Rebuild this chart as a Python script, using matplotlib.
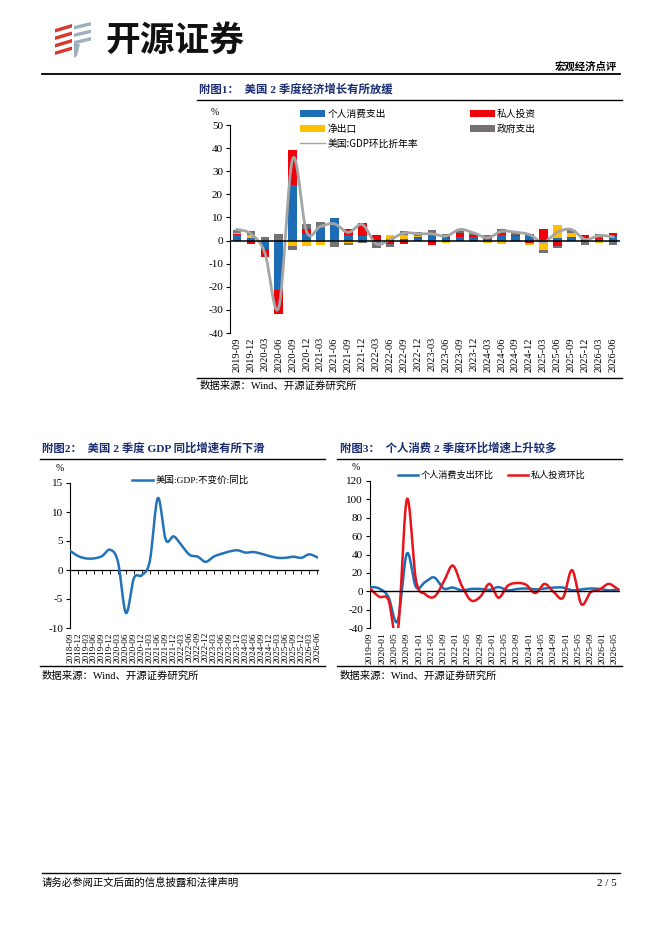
import numpy as np
import pandas as pd
import matplotlib
matplotlib.use("Agg")
import matplotlib.pyplot as plt
import matplotlib.dates as mdates
from matplotlib.patches import Patch, Polygon
from matplotlib.lines import Line2D

plt.rcParams['font.family'] = ['Liberation Serif', 'Noto Sans CJK SC']
plt.rcParams['axes.unicode_minus'] = False

# ---------------- data ----------------
quarters1 = ['2019-09', '2019-12', '2020-03', '2020-06', '2020-09', '2020-12',
             '2021-03', '2021-06', '2021-09', '2021-12', '2022-03', '2022-06',
             '2022-09', '2022-12', '2023-03', '2023-06', '2023-09', '2023-12',
             '2024-03', '2024-06', '2024-09', '2024-12', '2025-03', '2025-06',
             '2025-09', '2025-12', '2026-03', '2026-06']
pce_contrib = [2.2, 1.0, -3.6, -21.2, 24.2, 2.9, 5.3, 9.8, 2.6, 1.9, 0.3, 0.8,
               0.8, 1.0, 2.2, 1.0, 1.6, 1.4, 0.8, 2.2, 2.0, 1.8, 0.3, 1.1,
               1.6, 0.5, 0.6, 1.9]
inv_contrib = [0.5, -1.4, -3.6, -10.4, 14.8, 1.9, 0.3, -0.3, 2.6, 5.8, 2.0, -1.6,
               -1.3, 0.6, -1.8, 1.0, 1.7, 0.9, 0.5, 1.2, 0.3, -0.9, 4.5, -2.5,
               0.0, 1.8, 0.6, 1.4]
nx_contrib = [0.4, 1.3, 0.0, 0.0, -2.5, -2.5, -2.0, -0.4, -0.9, -0.2, -0.8, 1.6,
              1.7, 0.4, 0.5, -1.0, 0.0, -0.8, -1.2, -1.4, -0.6, -1.0, -3.9, 5.7,
              1.7, 0.2, -1.1, 0.0]
gov_contrib = [1.3, 1.7, 1.6, 3.0, -1.7, 2.2, 2.4, -2.3, -1.0, -0.8, -2.3, -1.2,
               1.8, 1.5, 1.9, 1.0, 1.4, 1.0, 0.9, 1.7, 1.2, 1.2, -1.4, -0.7,
               1.4, -2.0, 1.6, -2.0]
gdp_saar = [4.8, 2.9, -5.3, -29.0, 35.4, 3.8, 6.2, 7.2, 3.5, 6.9, -1.4, 0.4,
            3.3, 2.9, 2.9, 1.9, 4.8, 3.3, 1.2, 4.0, 3.6, 2.6, -0.7, 3.6,
            4.8, 0.5, 2.2, 1.6]
series1_names = ['个人消费支出', '私人投资', '净出口', '政府支出', '美国:GDP环比折年率']

quarters2 = ['2018-09', '2018-12', '2019-03', '2019-06', '2019-09', '2019-12',
             '2020-03', '2020-06', '2020-09', '2020-12', '2021-03', '2021-06',
             '2021-09', '2021-12', '2022-03', '2022-06', '2022-09', '2022-12',
             '2023-03', '2023-06', '2023-09', '2023-12', '2024-03', '2024-06',
             '2024-09', '2024-12', '2025-03', '2025-06', '2025-09', '2025-12',
             '2026-03', '2026-06']
gdp_yoy = [3.3, 2.4, 2.0, 2.0, 2.4, 3.5, 1.4, -7.4, -1.4, -0.9, 1.6, 12.4,
           5.2, 5.8, 4.2, 2.6, 2.3, 1.4, 2.3, 2.8, 3.2, 3.4, 3.0, 3.1,
           2.8, 2.4, 2.1, 2.1, 2.3, 2.1, 2.7, 2.2]
series2_name = '美国:GDP:不变价:同比'

quarters3 = quarters1
pce_qoq = [4.7, 3.0, -6.0, -32.5, 41.0, 4.5, 10.0, 15.0, 3.0, 4.0, 1.0, 2.5,
           2.5, 1.5, 4.5, 1.0, 2.5, 3.0, 2.0, 3.0, 4.0, 4.0, 1.0, 2.0,
           3.0, 2.5, 1.0, 2.0]
inv_qoq = [3.0, -6.0, -9.0, -46.0, 100.0, 12.0, -3.0, -6.0, 10.0, 28.0, 6.0, -10.0,
           -6.0, 8.0, -7.0, 6.0, 9.0, 7.0, -2.0, 8.0, -1.0, -7.0, 23.0, -14.0,
           -1.0, 2.0, 8.0, 2.0]
series3_names = ['个人消费支出环比', '私人投资环比']

# ---------------- helpers ----------------
W, H = 662, 936
fig = plt.figure(figsize=(W / 100, H / 100), dpi=100)
NAVY = '#1B2E72'
CJK = ['Noto Sans CJK SC', 'DejaVu Sans']
MIX = ['Liberation Serif', 'Noto Sans CJK SC']


def rect(x0, y0, x1, y1):
    return [x0 / W, 1 - y1 / H, (x1 - x0) / W, (y1 - y0) / H]


def ftext(x, y, s, **kw):
    fig.text(x / W, 1 - y / H, s, **kw)


def hline(x0, x1, y, lw=0.8, color='black'):
    fig.add_artist(Line2D([x0 / W, x1 / W], [1 - y / H, 1 - y / H],
                          transform=fig.transFigure, color=color, lw=lw))


def smooth(x, y, n=24):
    x = np.asarray(x, float)
    y = np.asarray(y, float)
    P = np.column_stack([x, y])
    P = np.vstack([P[0], P, P[-1]])
    out = []
    t = np.linspace(0, 1, n)[:, None]
    for i in range(1, len(P) - 2):
        p0, p1, p2, p3 = P[i - 1], P[i], P[i + 1], P[i + 2]
        c1 = p1 + (p2 - p0) / 6.0
        c2 = p2 - (p3 - p1) / 6.0
        seg = ((1 - t) ** 3) * p1 + 3 * ((1 - t) ** 2) * t * c1 + 3 * (1 - t) * t ** 2 * c2 + t ** 3 * p2
        out.append(seg if i == 1 else seg[1:])
    S = np.vstack(out)
    return S[:, 0], S[:, 1]


def style_axes(ax):
    for s in ['top', 'right', 'bottom']:
        ax.spines[s].set_visible(False)
    ax.spines['left'].set_linewidth(0.8)
    ax.tick_params(axis='y', direction='out', length=3, width=0.8, labelsize=8, pad=2)
    for lab in ax.get_yticklabels():
        lab.set_family(MIX)


# ---------------- header ----------------
red_c = '#D7372F'
gray_c = '#9DB0BC'
for k in range(4):
    yy = 24 + k * 7.5
    pts = [(55, yy + 5), (72, yy), (72, yy + 3.5), (55, yy + 8.5)]
    fig.add_artist(Polygon([(px / W, 1 - py / H) for px, py in pts], closed=True,
                           transform=fig.transFigure, color=red_c, lw=0))
for k in range(3):
    yy = 22 + k * 7.5
    pts = [(74, yy + 4), (91, yy), (91, yy + 3.5), (74, yy + 7.5)]
    fig.add_artist(Polygon([(px / W, 1 - py / H) for px, py in pts], closed=True,
                           transform=fig.transFigure, color=gray_c, lw=0))
fig.add_artist(Polygon([(px / W, 1 - py / H) for px, py in [(74, 44), (80, 44), (77, 56), (74, 58)]],
                       closed=True, transform=fig.transFigure, color=gray_c, lw=0))
ftext(105, 40, '开源证券', family=CJK, fontsize=25, fontweight='bold', va='center', ha='left', color='#111111')
ftext(617, 67, '宏观经济点评', family=CJK, fontsize=7.5, fontweight='bold', ha='right', va='center')
hline(42, 620, 74, lw=1.3)

# ---------------- chart 1 ----------------
ftext(199, 89, '附图1：  美国 2 季度经济增长有所放缓', family=MIX, fontsize=8.2,
      fontweight='bold', color=NAVY, va='center')
hline(197, 622, 100, lw=1.0)
ax1 = fig.add_axes(rect(230, 125, 620, 333))
x1 = np.arange(len(quarters1))
comps = [np.array(pce_contrib), np.array(inv_contrib), np.array(nx_contrib), np.array(gov_contrib)]
cols1 = ['#1C6DB5', '#F2000A', '#FFC000', '#767171']
pos_b = np.zeros(len(x1))
neg_b = np.zeros(len(x1))
for vals, c in zip(comps, cols1):
    b = np.where(vals >= 0, pos_b, neg_b)
    ax1.bar(x1, vals, bottom=b, width=0.62, color=c, lw=0, zorder=2)
    pos_b = pos_b + np.where(vals >= 0, vals, 0)
    neg_b = neg_b + np.where(vals < 0, vals, 0)
sx, sy = smooth(x1, gdp_saar)
ax1.plot(sx, sy, color='#A5A5A5', lw=2.0, zorder=3)
ax1.axhline(0, color='black', lw=1.1, zorder=4)
ax1.set_xlim(-0.5, len(x1) - 0.5)
ax1.set_ylim(-40, 50)
ax1.set_yticks(np.arange(-40, 51, 10))
ax1.set_xticks(x1)
ax1.set_xticklabels(quarters1, rotation=90, fontsize=7.5, family=MIX)
ax1.tick_params(axis='x', length=0, pad=3)
style_axes(ax1)
ax1.text(-0.04, 1.06, '%', transform=ax1.transAxes, fontsize=7, ha='center', va='center', family=MIX)
h_blue = Patch(color=cols1[0], lw=0)
h_red = Patch(color=cols1[1], lw=0)
h_yel = Patch(color=cols1[2], lw=0)
h_gry = Patch(color=cols1[3], lw=0)
h_ln = Line2D([], [], color='#A5A5A5', lw=1.0)
leg_kw = dict(frameon=False, borderpad=0, borderaxespad=0, handlelength=2.6,
              handleheight=0.75, handletextpad=0.2, labelspacing=0.5,
              prop={'family': CJK, 'size': 7})
lg1 = ax1.legend([h_blue, h_yel, h_ln], [series1_names[0], series1_names[2], series1_names[4]],
                 loc='upper left', bbox_to_anchor=(0.18, 1.078), **leg_kw)
ax1.add_artist(lg1)
ax1.legend([h_red, h_gry], [series1_names[1], series1_names[3]],
           loc='upper left', bbox_to_anchor=(0.615, 1.078), **leg_kw)
hline(197, 622, 377.5, lw=1.0)
ftext(200, 386, '数据来源：Wind、开源证券研究所', family=MIX, fontsize=7.5, va='center')

# ---------------- chart 2 ----------------
ftext(42, 448, '附图2：  美国 2 季度 GDP 同比增速有所下滑', family=MIX, fontsize=8.2,
      fontweight='bold', color=NAVY, va='center')
hline(40, 325, 458.5, lw=1.0)
ax2 = fig.add_axes(rect(70, 483, 318, 628))
x2 = np.arange(len(quarters2))
sx2, sy2 = smooth(x2, gdp_yoy)
ax2.plot(sx2, sy2, color='#2373BA', lw=1.8, zorder=3)
ax2.set_xlim(-0.02, len(x2) - 0.9)
ax2.set_ylim(-10, 15)
ax2.set_yticks(np.arange(-10, 16, 5))
style_axes(ax2)
ax2.spines['bottom'].set_visible(True)
ax2.spines['bottom'].set_position(('data', 0))
ax2.spines['bottom'].set_linewidth(0.9)
ax2.set_xticks(x2)
ax2.tick_params(axis='x', direction='out', length=3, width=0.6, labelbottom=False)
sec2 = ax2.secondary_xaxis('bottom')
sec2.set_xticks(x2)
sec2.set_xticklabels(quarters2, rotation=90, fontsize=6.6, family=MIX)
sec2.tick_params(length=0, pad=3)
sec2.spines['bottom'].set_visible(False)
ax2.text(-0.04, 1.1, '%', transform=ax2.transAxes, fontsize=7, ha='center', va='center', family=MIX)
ax2.legend([Line2D([], [], color='#2373BA', lw=1.8)], [series2_name], loc='upper left',
           bbox_to_anchor=(0.25, 1.05), frameon=False, borderpad=0, borderaxespad=0,
           handlelength=2.2, handletextpad=0.3, prop={'family': MIX, 'size': 6.8})
hline(40, 325, 665.5, lw=1.0)
ftext(42, 676, '数据来源：Wind、开源证券研究所', family=MIX, fontsize=7.5, va='center')

# ---------------- chart 3 ----------------
ftext(340, 448, '附图3：  个人消费 2 季度环比增速上升较多', family=MIX, fontsize=8.2,
      fontweight='bold', color=NAVY, va='center')
hline(337, 622, 458.5, lw=1.0)
ax3 = fig.add_axes(rect(370, 481, 620, 628))
d3 = mdates.date2num(pd.to_datetime([q + '-01' for q in quarters3]))
sx3a, sy3a = smooth(d3, pce_qoq)
sx3b, sy3b = smooth(d3, inv_qoq)
ax3.plot(sx3a, sy3a, color='#1F6FB5', lw=1.8, zorder=3)
ax3.plot(sx3b, sy3b, color='#E8141B', lw=1.8, zorder=3)
ax3.axhline(0, color='black', lw=1.0, zorder=4)
ax3.set_xlim(mdates.date2num(pd.Timestamp('2019-09-01')), mdates.date2num(pd.Timestamp('2026-06-20')))
ax3.set_ylim(-40, 120)
ax3.set_yticks(np.arange(-40, 121, 20))
ax3.xaxis.set_major_locator(mdates.MonthLocator(bymonth=[1, 5, 9]))
ax3.xaxis.set_major_formatter(mdates.DateFormatter('%Y-%m'))
ax3.tick_params(axis='x', length=0, pad=3, labelsize=6.8, labelrotation=90)
for lab in ax3.get_xticklabels():
    lab.set_family(MIX)
style_axes(ax3)
ax3.text(-0.055, 1.09, '%', transform=ax3.transAxes, fontsize=7, ha='center', va='center', family=MIX)
ax3.legend([Line2D([], [], color='#1F6FB5', lw=1.8), Line2D([], [], color='#E8141B', lw=1.8)],
           series3_names, loc='upper left', ncol=2, bbox_to_anchor=(0.11, 1.07),
           frameon=False, borderpad=0, borderaxespad=0, handlelength=2.2,
           handletextpad=0.3, columnspacing=1.6, prop={'family': CJK, 'size': 6.6})
hline(337, 622, 665.5, lw=1.0)
ftext(340, 676, '数据来源：Wind、开源证券研究所', family=MIX, fontsize=7.5, va='center')

# ---------------- footer ----------------
hline(42, 620, 873, lw=1.0)
ftext(42, 883, '请务必参阅正文后面的信息披露和法律声明', family=CJK, fontsize=7.5, va='center')
ftext(617, 883, '2 / 5', family=MIX, fontsize=8, va='center', ha='right')

fig.savefig('out.png', dpi=100)
